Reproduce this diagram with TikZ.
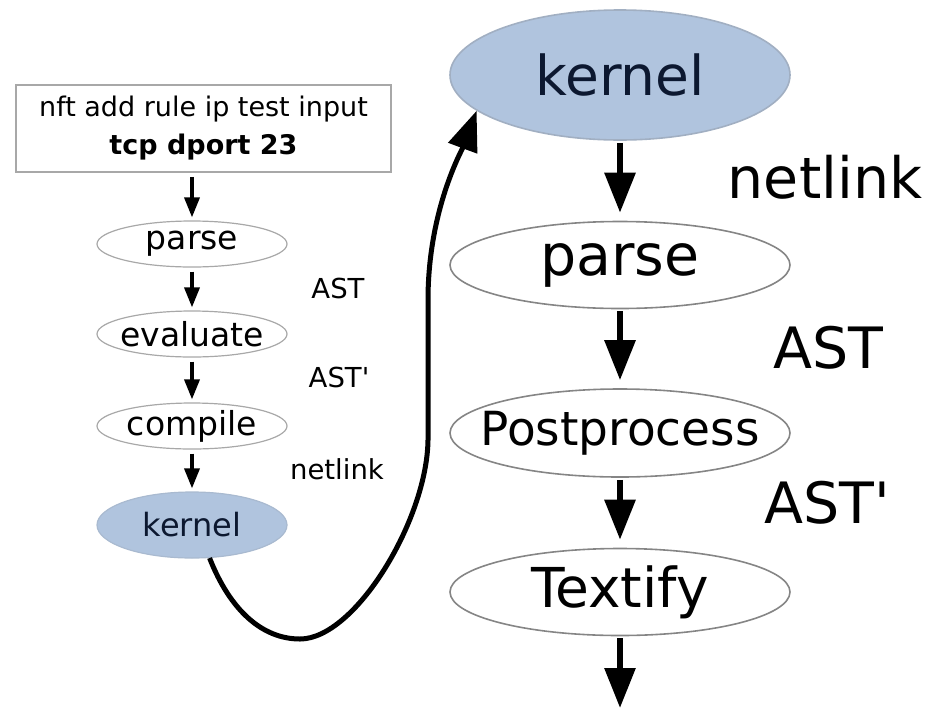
\documentclass[tikz,border=0pt]{standalone}
\usepackage{fontspec}
\setmainfont{DejaVu Sans}
\usetikzlibrary{arrows.meta,shapes.geometric}
\definecolor{kernfill}{HTML}{B0C4DE}
\definecolor{kerntext}{HTML}{0C1830}
\definecolor{lightedge}{HTML}{A8A8A8}
\definecolor{darkedge}{HTML}{858585}
% zero-width text box, so the ellipse keeps its set size
\newcommand{\zw}[1]{\makebox[0pt]{#1}}

\begin{document}
\begin{tikzpicture}[x=1pt,y=1pt,
  cmdbox/.style={rectangle, draw=lightedge, line width=1.8pt, minimum width=375pt,
    minimum height=87pt, inner sep=0pt, align=center, font=\fontsize{27}{38}\selectfont},
  smallstage/.style={ellipse, draw=lightedge, line width=1.2pt, minimum width=190pt,
    minimum height=46pt, inner sep=0pt, font=\fontsize{33}{33}\selectfont},
  smallkernel/.style={smallstage, draw=kernfill!85!gray, fill=kernfill, text=kerntext,
    minimum height=66pt, font=\fontsize{32}{32}\selectfont},
  bigstage/.style={ellipse, draw=darkedge, line width=1.6pt, minimum width=340pt,
    minimum height=87pt, inner sep=0pt, font=\fontsize{57}{57}\selectfont},
  bigkernel/.style={bigstage, draw=kernfill!70!gray, fill=kernfill, text=kerntext,
    minimum height=130pt, font=\fontsize{55}{55}\selectfont},
  smalllabel/.style={anchor=base, font=\fontsize{27.5}{27.5}\selectfont},
  biglabel/.style={anchor=base, font=\fontsize{57}{57}\selectfont},
  smallflow/.style={-{Triangle[length=20pt,width=15pt]}, line width=3.5pt,
    shorten <=4pt, shorten >=3pt},
  bigflow/.style={-{Triangle[length=40pt,width=30pt]}, line width=6pt,
    shorten <=2pt, shorten >=8pt},
  handover/.style={-{Triangle[length=40pt,width=30pt]}, line width=5pt}
]
\useasboundingbox (0,0) rectangle (939,-710);

% userspace side: nft command compiled down to netlink
\node[cmdbox] (cmd) at (203.5,-128.5) {nft add rule ip test input\\\textbf{tcp dport 23}};
\node[smallstage] (lparse) at (192,-244) {\zw{parse}};
\node[smallstage] (leval) at (192,-334) {\zw{evaluate}};
\node[smallstage] (lcomp) at (192,-426) {\zw{compile}};
\node[smallkernel] (lk) at (192,-525) {\zw{kernel}};

\draw[smallflow] (cmd.south -| lparse.north) -- (lparse.north);
\draw[smallflow] (lparse) -- (leval);
\draw[smallflow] (leval) -- (lcomp);
\draw[smallflow] (lcomp) -- (lk);

\node[smalllabel] (lab1) at (338,-298) {AST};
\node[smalllabel] (lab2) at (339,-387) {AST\textquotesingle};
\node[smalllabel] (lab3) at (337,-479) {netlink};

% kernel side: netlink message turned back into text
\node[bigkernel] (bk) at (620,-75) {\zw{kernel}};
\node[bigstage] (rparse) at (620,-265) {\zw{parse}};
\node[bigstage, minimum height=88pt, font=\fontsize{47}{47}\selectfont] (rpost) at (620,-433) {\zw{Postprocess}};
\node[bigstage, font=\fontsize{55}{55}\selectfont] (rtext) at (620,-592) {\zw{Textify}};
\coordinate (out) at (620,-708);

\draw[bigflow] (bk) -- (rparse);
\draw[bigflow] (rparse) -- (rpost);
\draw[bigflow] (rpost) -- (rtext);
\draw[bigflow, shorten >=0pt] (rtext) -- (out);

\node[biglabel] (rab1) at (825,-198) {netlink};
\node[biglabel] (rab2) at (828,-368) {AST};
\node[biglabel] (rab3) at (827,-523) {AST\textquotesingle};

% hand-over from the userspace kernel node to the kernel side
\draw[handover] (lk.-62) .. controls (230,-610) and (262,-639) .. (300,-639)
  .. controls (355,-639) and (427,-520) .. (428,-440) -- (428,-300)
  .. controls (428,-210) and (462,-150) .. (bk.194);
\end{tikzpicture}
\end{document}
